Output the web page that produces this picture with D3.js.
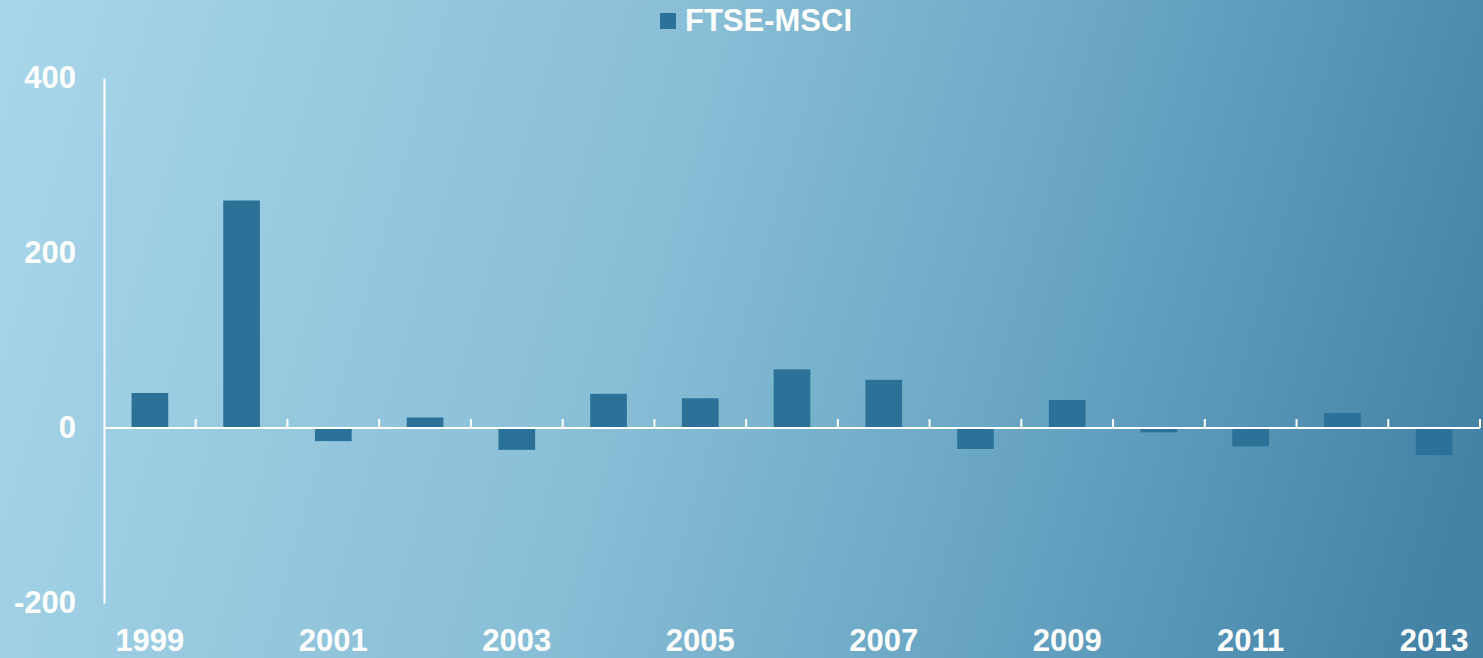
<!DOCTYPE html>
<html>
<head>
<meta charset="utf-8">
<script src="https://cdn.jsdelivr.net/npm/d3@7"></script>
<style>
  html, body { margin: 0; padding: 0; overflow: hidden; }
  text { font-family: "Liberation Sans", Arial, sans-serif; font-weight: bold; fill: #fff; }
</style>
</head>
<body>
<div id="chart"></div>
<script>
// Data
const years = ["1999", "2000", "2001", "2002", "2003", "2004", "2005", "2006",
               "2007", "2008", "2009", "2010", "2011", "2012", "2013"];
const ftseMsci = [40, 260, -15, 12, -25, 39, 34, 67, 55, -24, 32, -5, -21, 17, -31];
const yTicks = [-200, 0, 200, 400];
const seriesName = "FTSE-MSCI";

const W = 1483, H = 658;
const margin = { top: 78, right: 3, bottom: 55, left: 104 };
const barColor = "#2c7298";

const svg = d3.select("#chart").append("svg")
    .attr("width", W)
    .attr("height", H);

// Background gradient
const defs = svg.append("defs");
const grad = defs.append("linearGradient")
    .attr("id", "bg")
    .attr("gradientUnits", "userSpaceOnUse")
    .attr("x1", 0).attr("y1", 0)
    .attr("x2", W).attr("y2", 420);
grad.append("stop").attr("offset", "0%").attr("stop-color", "#a9d6e9");
grad.append("stop").attr("offset", "45%").attr("stop-color", "#88bed6");
grad.append("stop").attr("offset", "75%").attr("stop-color", "#64a1c0");
grad.append("stop").attr("offset", "100%").attr("stop-color", "#4483a6");

svg.append("rect")
    .attr("width", W)
    .attr("height", H)
    .attr("fill", "url(#bg)");

// Scales
const x = d3.scaleBand()
    .domain(years)
    .range([margin.left, 1480])
    .paddingInner(0.6)
    .paddingOuter(0.3);

const y = d3.scaleLinear()
    .domain([-200, 400])
    .range([603, 78]);

// Bars
svg.append("g")
    .selectAll("rect")
    .data(years)
    .join("rect")
    .attr("x", d => x(d))
    .attr("width", x.bandwidth())
    .attr("y", (d, i) => y(Math.max(0, ftseMsci[i])))
    .attr("height", (d, i) => Math.abs(y(ftseMsci[i]) - y(0)))
    .attr("fill", barColor);

// Y axis
const yAxis = svg.append("g")
    .attr("transform", `translate(${margin.left},0)`)
    .call(d3.axisLeft(y).tickValues(yTicks).tickSize(0).tickPadding(28).tickFormat(d => String(d)));
yAxis.select(".domain").attr("stroke", "#fff").attr("stroke-width", 2);
yAxis.selectAll("text")
    .style("font-size", "31px")
    .attr("fill", "#fff");

// X axis line at zero, with tick marks between categories
const step = x.step();
const bounds = years.map(d => x(d) - (step - x.bandwidth()) / 2);
bounds.push(1480);
const xAxis = svg.append("g");
xAxis.append("line")
    .attr("x1", margin.left)
    .attr("x2", 1480)
    .attr("y1", y(0))
    .attr("y2", y(0))
    .attr("stroke", "#fff")
    .attr("stroke-width", 2);
xAxis.selectAll("line.tick")
    .data(bounds.slice(1))
    .join("line")
    .attr("class", "tick")
    .attr("x1", d => d)
    .attr("x2", d => d)
    .attr("y1", y(0) - 9)
    .attr("y2", y(0))
    .attr("stroke", "#fff")
    .attr("stroke-width", 2);

// X labels (every other year)
svg.append("g")
    .selectAll("text")
    .data(years.filter((d, i) => i % 2 === 0))
    .join("text")
    .attr("x", d => x(d) + x.bandwidth() / 2)
    .attr("y", 651)
    .attr("text-anchor", "middle")
    .style("font-size", "31px")
    .text(d => d);

// Legend
const legend = svg.append("g");
legend.append("rect")
    .attr("x", 660)
    .attr("y", 13)
    .attr("width", 16)
    .attr("height", 16)
    .attr("fill", barColor);
legend.append("text")
    .attr("x", 685)
    .attr("y", 31)
    .style("font-size", "31px")
    .text(seriesName);
</script>
</body>
</html>
